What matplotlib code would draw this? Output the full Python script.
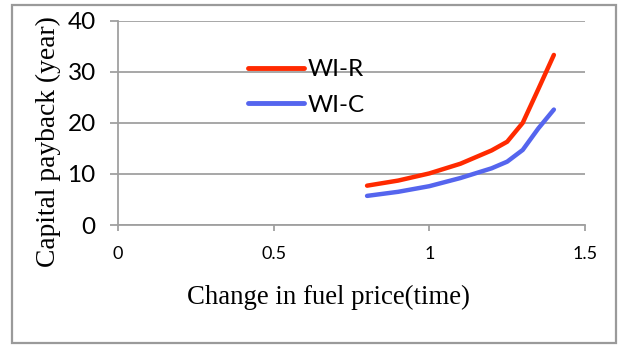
import matplotlib
matplotlib.use("Agg")
import matplotlib.pyplot as plt
from matplotlib.patches import Rectangle

# Data
x_change = [0.8, 0.9, 1.0, 1.1, 1.2, 1.25, 1.3, 1.35, 1.4]
wi_r = [7.7, 8.7, 10.1, 12.0, 14.6, 16.3, 20.0, 26.6, 33.3]
wi_c = [5.7, 6.5, 7.6, 9.2, 11.1, 12.4, 14.7, 18.9, 22.6]
series_names = ["WI-R", "WI-C"]
x_ticks = [0, 0.5, 1, 1.5]
x_tick_labels = ["0", "0.5", "1", "1.5"]
y_ticks = [0, 10, 20, 30, 40]
y_tick_labels = ["0", "10", "20", "30", "40"]

W, H = 618, 345
fig = plt.figure(figsize=(W / 100, H / 100), dpi=100)
fig.patch.set_facecolor("white")

# outer chart border
fig.patches.append(Rectangle((12 / W, 1 - 343 / H), (616 - 12) / W, (343 - 5) / H,
                             transform=fig.transFigure, fill=False,
                             edgecolor="#9a9a9a", linewidth=1.6))

left, right, top, bottom = 118, 585, 20.7, 225
ax = fig.add_axes([left / W, 1 - bottom / H, (right - left) / W, (bottom - top) / H])

grid_col = "#a0a0a0"
ax.plot(x_change, wi_r, color="#ff2a00", linewidth=3.2, solid_capstyle="round",
        solid_joinstyle="round", label=series_names[0], zorder=3)
ax.plot(x_change, wi_c, color="#5565ee", linewidth=3.2, solid_capstyle="round",
        solid_joinstyle="round", label=series_names[1], zorder=3)

ax.set_xlim(0, 1.5)
ax.set_ylim(0, 40)
ax.set_xticks(x_ticks)
ax.set_xticklabels(x_tick_labels, fontfamily="Lato", fontsize=13)
ax.set_yticks(y_ticks)
ax.set_yticklabels(y_tick_labels, fontfamily="Lato", fontsize=17.5)

ax.grid(axis="y", color=grid_col, linewidth=1.3)
ax.set_axisbelow(True)
for s in ["top", "right"]:
    ax.spines[s].set_visible(False)
for s in ["left", "bottom"]:
    ax.spines[s].set_color(grid_col)
    ax.spines[s].set_linewidth(1.3)
ax.tick_params(axis="y", direction="out", length=6, width=1.3, color=grid_col, pad=10)
ax.tick_params(axis="x", direction="out", length=4, width=1.3, color=grid_col, pad=11)

ax.set_xlabel("Change in fuel price(time)", fontfamily="Liberation Serif", fontsize=19.3)
ax.set_ylabel("Capital payback (year)", fontfamily="Liberation Serif", fontsize=19.8)
ax.xaxis.set_label_coords((328.5 - left) / (right - left), (bottom - 297) / (bottom - top))
ax.xaxis.label.set_va("center")
ax.yaxis.set_label_coords((48 - left) / (right - left), (bottom - 141.5) / (bottom - top))
ax.yaxis.label.set_va("center")

leg = ax.legend(loc="upper left", bbox_to_anchor=(248 / W, 1 - 59 / H),
                bbox_transform=fig.transFigure, frameon=False,
                prop={"family": "Lato", "size": 17.5}, handlelength=2.3,
                handletextpad=0.15, labelspacing=0.6, borderpad=0, borderaxespad=0)
for line in leg.get_lines():
    line.set_linewidth(3.5)

fig.savefig("out.png", dpi=100)
